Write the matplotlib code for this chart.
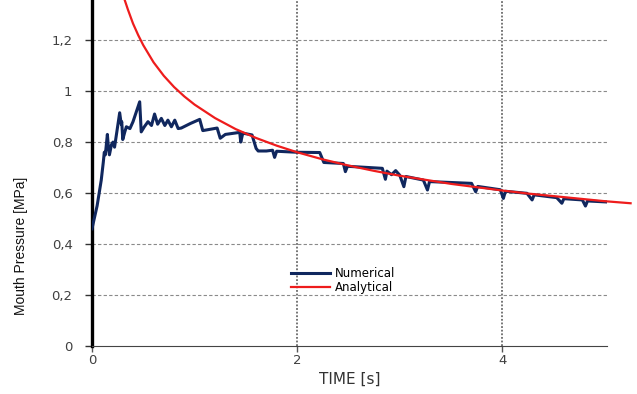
import matplotlib.pyplot as plt
from matplotlib.ticker import FuncFormatter

# numerical solution (time [s], mouth pressure [MPa])
num_t = [0.00, 0.05, 0.09, 0.11, 0.12, 0.13, 0.15, 0.16, 0.17, 0.19, 0.205, 0.22,
         0.24, 0.27, 0.285, 0.29, 0.30, 0.32, 0.335, 0.37, 0.40, 0.465, 0.48, 0.51,
         0.546, 0.58, 0.61, 0.64, 0.676, 0.71, 0.74, 0.774, 0.807, 0.84, 0.87, 0.96,
         1.05, 1.08, 1.22, 1.25, 1.30, 1.44, 1.45, 1.47, 1.56, 1.60, 1.62, 1.70, 1.76,
         1.78, 1.80, 2.00, 2.22, 2.26, 2.45, 2.47, 2.49, 2.83, 2.86, 2.875, 2.92, 2.96,
         3.00, 3.04, 3.06, 3.23, 3.27, 3.29, 3.70, 3.74, 3.76, 3.98, 4.01, 4.03, 4.24,
         4.29, 4.31, 4.53, 4.58, 4.60, 4.78, 4.81, 4.83, 5.02]
num_p = [0.46, 0.55, 0.65, 0.72, 0.76, 0.75, 0.83, 0.78, 0.75, 0.79, 0.80, 0.78,
         0.834, 0.915, 0.87, 0.88, 0.81, 0.84, 0.86, 0.853, 0.88, 0.958, 0.84, 0.86,
         0.88, 0.865, 0.91, 0.87, 0.893, 0.865, 0.886, 0.86, 0.886, 0.853, 0.855, 0.873,
         0.889, 0.845, 0.855, 0.815, 0.83, 0.838, 0.80, 0.835, 0.828, 0.775, 0.765, 0.765, 0.768,
         0.74, 0.764, 0.760, 0.759, 0.72, 0.716, 0.684, 0.705, 0.697, 0.654, 0.686, 0.672, 0.688,
         0.67, 0.625, 0.665, 0.651, 0.612, 0.645, 0.638, 0.605, 0.626, 0.613, 0.579, 0.607, 0.599,
         0.573, 0.593, 0.582, 0.56, 0.578, 0.573, 0.549, 0.569, 0.565]

# analytical solution
ana_t = [0.28, 0.30, 0.35, 0.40, 0.45, 0.50, 0.60, 0.70, 0.80, 0.90, 1.00, 1.20, 1.40,
         1.60, 1.80, 2.00, 2.25, 2.50, 2.75, 3.00, 3.25, 3.50, 3.75, 4.00, 4.25, 4.50,
         4.75, 5.00, 5.25]
ana_p = [1.42, 1.38, 1.32, 1.265, 1.22, 1.18, 1.113, 1.06, 1.016, 0.979, 0.947, 0.894, 0.851,
         0.816, 0.786, 0.760, 0.732, 0.708, 0.687, 0.668, 0.652, 0.636, 0.623, 0.610, 0.598, 0.588,
         0.578, 0.568, 0.560]

y_ticks = [0, 0.2, 0.4, 0.6, 0.8, 1.0, 1.2]
x_ticks = [0, 2, 4]

fig = plt.figure(figsize=(6.37, 3.94), dpi=100)
ax = fig.add_axes([0.1444, 0.1218, 0.8085, 0.878])

ax.set_xlim(0, 5.02)
ax.set_ylim(0, 1.357)

# grid: dashed horizontal, dotted vertical
for y in y_ticks[1:]:
    ax.axhline(y, color='#8a8a8a', lw=0.8, ls=(0, (3, 2)), zorder=1)
for x in x_ticks[1:]:
    ax.axvline(x, color='#6a6a6a', lw=1.3, ls=(0, (1, 1)), zorder=1)

ax.plot(num_t, num_p, color='#10275e', lw=2.2, label='Numerical', zorder=3,
        solid_joinstyle='round')
ax.plot(ana_t, ana_p, color='#ee1c1c', lw=1.6, label='Analytical', zorder=4,
        clip_on=False)

for s in ['top', 'right']:
    ax.spines[s].set_visible(False)
ax.spines['left'].set_linewidth(2.4)
ax.spines['left'].set_color('black')
ax.spines['bottom'].set_linewidth(0.8)
ax.spines['bottom'].set_color('#444444')

ax.set_yticks(y_ticks)
ax.set_xticks(x_ticks)
ax.yaxis.set_major_formatter(FuncFormatter(lambda v, p: ('%g' % round(v, 1)).replace('.', ',')))
ax.tick_params(axis='y', length=5, width=1.0, color='#333333', pad=9,
               labelsize=9.5, labelcolor='#404040')
ax.tick_params(axis='x', length=4, width=1.0, color='#555555', pad=2,
               labelsize=9.5, labelcolor='#404040')

ax.set_xlabel('TIME [s]', fontsize=11, color='#333333', labelpad=3)
ax.set_ylabel('Mouth Pressure [MPa]', fontsize=10, color='#111111',
              family=['Liberation Sans', 'DejaVu Sans'])
ax.yaxis.set_label_coords(-0.125, 0.29)

ax.legend(loc='upper left', bbox_to_anchor=(0.375, 0.245), frameon=False,
          fontsize=8.5, handlelength=3.3, labelspacing=0.05, handletextpad=0.4,
          borderpad=0)

fig.savefig('out.png', dpi=100)
